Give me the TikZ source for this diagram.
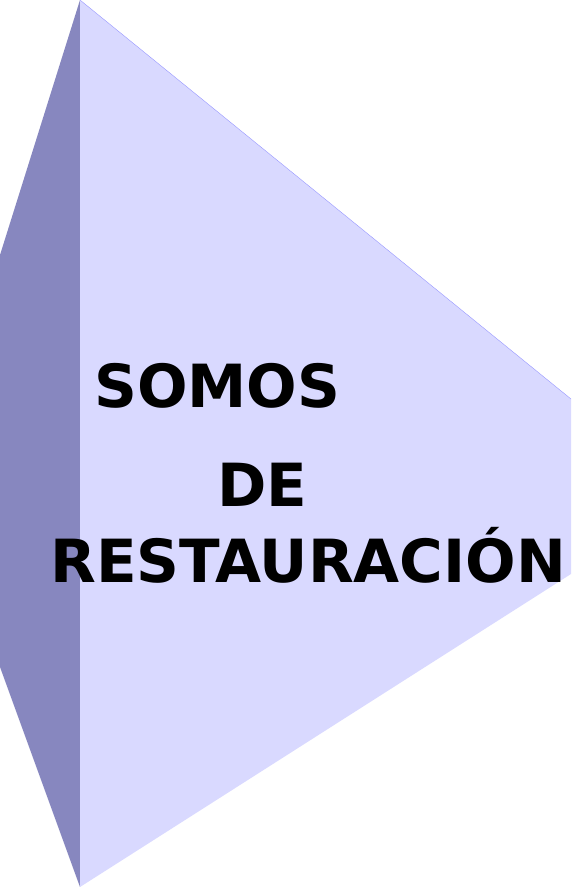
\documentclass[tikz,border=0pt]{standalone}
\usepackage{fontspec}
\setmainfont{DejaVu Sans}
\usetikzlibrary{calc}
\definecolor{frontface}{RGB}{217,217,255}
\definecolor{sideface}{RGB}{135,135,191}

\begin{document}
\begin{tikzpicture}[x=1pt,y=-1pt]
\useasboundingbox (0,0) rectangle (571,887);
\coordinate (A1) at (80,0);
\coordinate (A2) at (80,887);
\coordinate (B1) at (0,255);
\coordinate (B2) at (0,667);
\coordinate (C1) at (571,399);
\coordinate (C2) at (571,574);
\fill[sideface] (B1)--(A1)--(A2)--(B2)--cycle;
\fill[frontface] (A1)--(C1)--(C2)--(A2)--cycle;
\draw[frontface!70!blue,line width=0.4pt] (A1)--(C1);
\node[anchor=base west,inner sep=0pt,font=\fontsize{59.5}{70}\selectfont\bfseries] (somos) at (94,407) {SOMOS};
\node[anchor=base west,inner sep=0pt,font=\fontsize{59.5}{70}\selectfont\bfseries] (de) at (217,506) {DE};
\node[anchor=base west,inner sep=0pt,font=\fontsize{59.5}{70}\selectfont\bfseries] (rest) at (50,582) {RESTAURACIÓN};
%\draw[red] (somos.south west) rectangle (somos.north east);
\end{tikzpicture}
\end{document}
